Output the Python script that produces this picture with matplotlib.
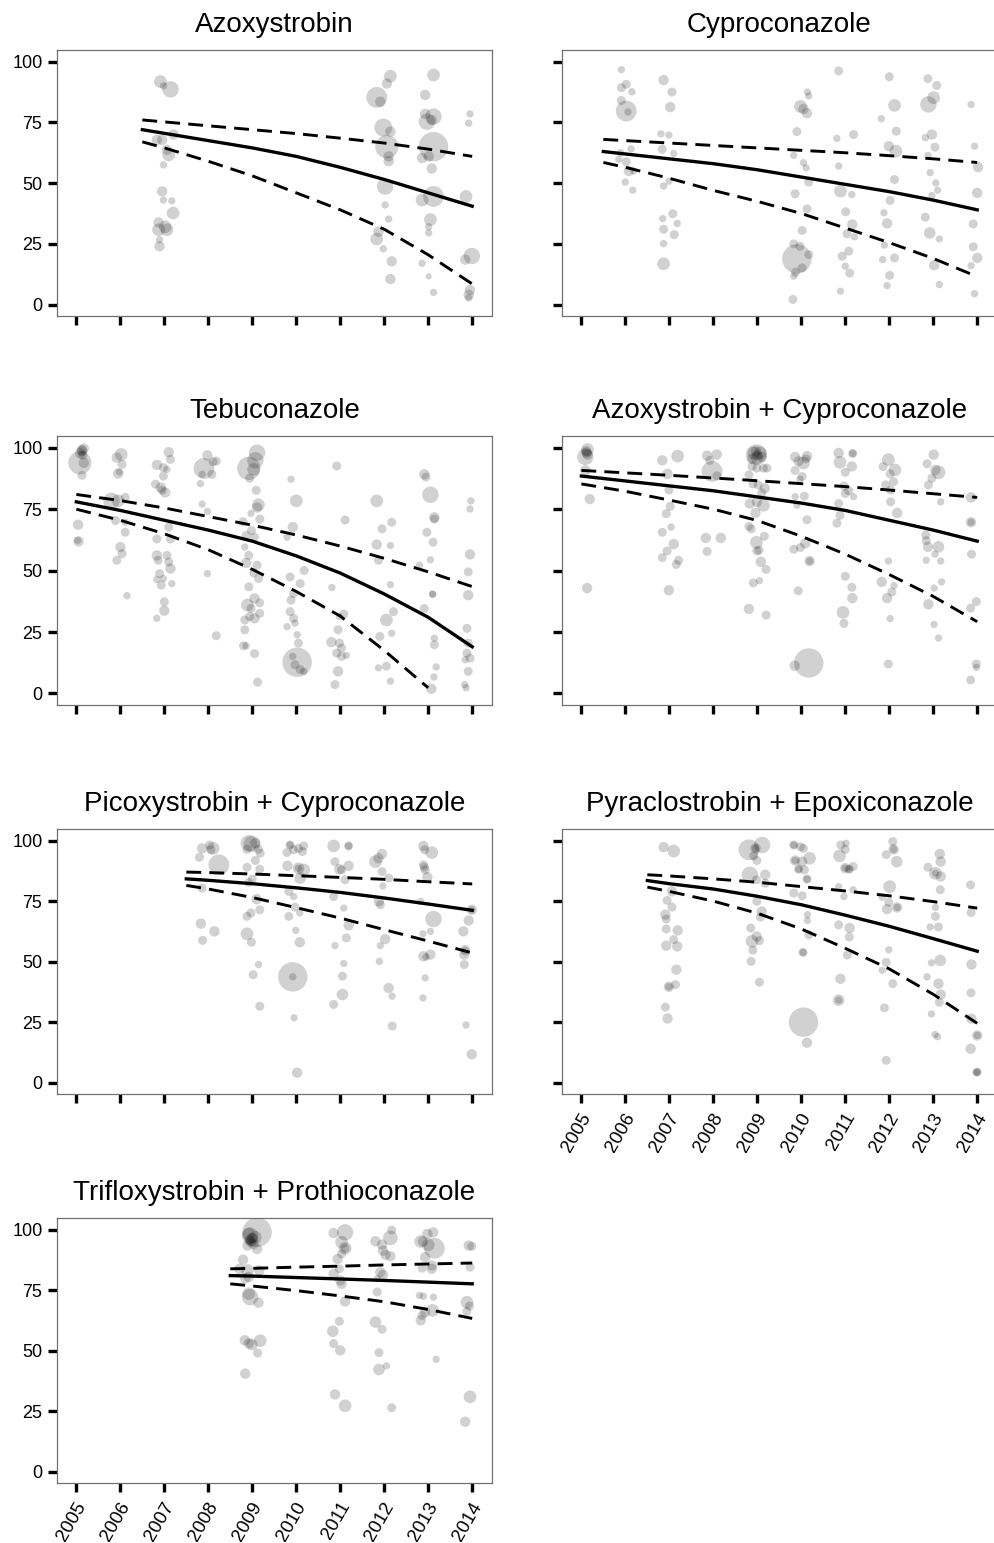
import matplotlib.pyplot as plt
from matplotlib.transforms import ScaledTranslation

plt.rcParams['font.family'] = ['Liberation Sans', 'DejaVu Sans']

YEARS = list(range(2005, 2015))
Y_TICKS = [0, 25, 50, 75, 100]

# observations: (year, percent, weight)
AZO_PTS = [
    (2006.91, 91.8, 3), (2007.14, 88.6, 5), (2006.98, 90, 1), (2006.83, 67.8, 2),
    (2006.95, 67.8, 2), (2007.21, 70, 2), (2007.1, 61.6, 3), (2007.06, 63.7, 2),
    (2006.98, 57.5, 1), (2006.95, 46.6, 2), (2006.98, 43, 1), (2007.17, 42.7, 1),
    (2007.2, 37.7, 3), (2006.87, 33.8, 2), (2007.02, 32, 3), (2007.06, 30.8, 3),
    (2006.87, 30.8, 3), (2006.89, 24, 2), (2006.89, 26.7, 1),
    (2011.83, 85.3, 8), (2011.91, 83.5, 2), (2012.06, 91, 2), (2012.14, 94, 3),
    (2011.98, 72.9, 6), (2012.14, 71.2, 2), (2012.06, 65, 10), (2012.1, 61, 2),
    (2012.1, 59, 2), (2012.02, 48.6, 5), (2012.02, 41, 1), (2012.1, 35.2, 1),
    (2011.87, 30, 2), (2011.83, 27, 3), (2011.98, 23, 1), (2012.17, 17.8, 2),
    (2012.14, 10.5, 2),
    (2013.12, 94.5, 3), (2012.93, 86.3, 2), (2012.93, 78.5, 2), (2013.12, 77.4, 5),
    (2012.97, 75.3, 5), (2013.08, 76, 2), (2013.12, 65, 16), (2013.01, 61, 2),
    (2012.86, 60.3, 2), (2013.08, 56, 2), (2012.86, 43, 3), (2013.12, 44.5, 8),
    (2013.05, 35, 3), (2013.01, 32, 1), (2013.01, 29.5, 1), (2012.86, 17, 1),
    (2013.01, 11.6, 0.7), (2013.12, 5, 1),
    (2013.95, 78.5, 1), (2013.92, 74.7, 1), (2013.86, 44.5, 3), (2013.99, 20, 5),
    (2013.84, 18.5, 2), (2013.95, 6, 2), (2013.92, 4, 2), (2013.92, 2.7, 1),
]

CYP_PTS = [
    (2005.91, 96.7, 1), (2006.02, 90.7, 1.5), (2006.15, 87.6, 1), (2005.91, 89.3, 1.5),
    (2005.91, 84, 1.5), (2006.02, 79.7, 8), (2006.06, 79.3, 1), (2005.89, 62.5, 1),
    (2006.13, 64.1, 1), (2005.85, 59.8, 1), (2006.02, 58.8, 1.5), (2006.08, 55, 2),
    (2006.19, 55, 1), (2006.0, 50.4, 1), (2006.17, 47.1, 1),
    (2006.87, 92.4, 2), (2007.06, 87.5, 1.5), (2007.02, 81.3, 2), (2006.81, 70.3, 1),
    (2006.99, 69.8, 1), (2006.84, 63.9, 1.5), (2007.1, 62.2, 1), (2006.87, 48.8, 1),
    (2006.99, 50.8, 1), (2007.08, 37.4, 1.5), (2006.85, 35.4, 1), (2007.18, 33.4, 1),
    (2006.87, 31, 1.5), (2007.11, 28.8, 1.5), (2006.87, 25.1, 1), (2006.87, 16.8, 3),
    (2009.98, 81.6, 3), (2010.05, 80.5, 2), (2010.13, 78.8, 2), (2010.14, 87.5, 1),
    (2010.17, 85.9, 1), (2009.9, 71.2, 1.5), (2009.83, 61.4, 1), (2010.05, 58.4, 1),
    (2010.11, 56.3, 1), (2010.17, 50.4, 1.5), (2009.86, 45.6, 1.5), (2010.13, 39.4, 1.5),
    (2010.02, 30.5, 1.5), (2009.83, 25, 1.5), (2009.97, 24, 1.5), (2009.9, 18.8, 16),
    (2010.17, 20.6, 1.5), (2009.87, 13.3, 1.5), (2010.02, 15.1, 1.5), (2009.83, 11.7, 1),
    (2009.81, 2.1, 1.5),
    (2010.85, 96.2, 1.5), (2010.81, 68.4, 1), (2011.19, 70, 1.5), (2010.85, 57, 1),
    (2010.89, 46.7, 3), (2011.15, 45.3, 1), (2011.01, 38.2, 1.5), (2011.16, 33, 2),
    (2011.04, 29.1, 1.5), (2011.21, 27.9, 1), (2011.08, 22, 1.5), (2010.93, 19.9, 1.5),
    (2011.0, 15.8, 1), (2011.1, 13, 1.5), (2010.89, 5.5, 1),
    (2012.0, 93.8, 1.5), (2012.12, 82, 3), (2011.82, 76.5, 1), (2012.16, 71.4, 1.5),
    (2011.99, 65.2, 2), (2012.15, 63.2, 3), (2012.12, 51.5, 1.5), (2012.02, 42.9, 1.5),
    (2011.88, 37.8, 1), (2011.95, 33.4, 2), (2011.89, 24.5, 1), (2012.12, 19.2, 1.5),
    (2011.85, 18.5, 1), (2012.01, 12, 1.5), (2011.95, 7.8, 1),
    (2012.88, 93, 1.5), (2013.08, 90.2, 1.5), (2013.01, 85.2, 3), (2012.89, 82.4, 5),
    (2012.97, 70, 2), (2012.82, 68.7, 1), (2013.04, 64.8, 1.5), (2012.88, 61.4, 1),
    (2012.93, 54.3, 1), (2013.06, 50.1, 1), (2013.1, 47.1, 1), (2012.97, 44.9, 1),
    (2012.82, 36, 1.5), (2012.92, 29.5, 2.5), (2013.14, 27, 1), (2013.02, 16.2, 2),
    (2013.14, 8.2, 1),
    (2013.86, 82.4, 1), (2013.94, 65.2, 1), (2014.02, 56.6, 2), (2014.0, 46, 2),
    (2013.91, 33.2, 1.5), (2013.91, 23.8, 1.5), (2014.0, 19.2, 2), (2013.86, 16, 1),
    (2013.94, 4.5, 1),
]

TEB_PTS = [
    (2005.17, 99.7, 2), (2005.13, 98.7, 2), (2005.09, 97.7, 2), (2005.08, 93.9, 10),
    (2005.17, 93.9, 2), (2005.13, 88.8, 1.5), (2005.04, 68.7, 2), (2005.05, 61.9, 2),
    (2005.03, 62.3, 1), (2005.12, 99.0, 2), (2005.15, 97.0, 1.5),
    (2005.92, 96, 2), (2006.02, 97.3, 3), (2006.04, 93.3, 1.5), (2005.95, 89.5, 2),
    (2005.98, 90.2, 1), (2005.8, 78.4, 5), (2005.95, 78.4, 3), (2006.11, 79.8, 1.5),
    (2005.89, 70.4, 1.5), (2006.11, 69.7, 1), (2006.11, 65.6, 1.5), (2006.0, 59.6, 2),
    (2006.04, 56.9, 1.5), (2005.92, 54.2, 1.5), (2006.15, 39.8, 1),
    (2006.83, 93, 2), (2007.1, 98.2, 2), (2007.14, 95.3, 1.5), (2006.98, 91.9, 1.5),
    (2007.06, 91.2, 1), (2006.98, 88.5, 1.5), (2006.8, 85.2, 1.5), (2006.92, 83.8, 2),
    (2007.02, 81.8, 2), (2006.95, 82.7, 1.5), (2007.1, 67.7, 1.5), (2006.83, 62.9, 1.5),
    (2007.14, 62.9, 1.5), (2006.83, 56.2, 2), (2006.86, 54.2, 1.5), (2007.06, 56.2, 1.5),
    (2007.1, 53.5, 1.5), (2007.14, 50.8, 2), (2006.89, 48.8, 1.5), (2006.83, 46.4, 1),
    (2006.93, 44.1, 1.5), (2006.98, 46.8, 1), (2007.17, 44.7, 1), (2007.0, 37.3, 1.5),
    (2007.0, 33.7, 2), (2006.83, 30.6, 1),
    (2007.98, 96.9, 2), (2007.9, 91.6, 8), (2008.11, 94.3, 1.5), (2008.18, 94.6, 1.5),
    (2007.86, 89.2, 1), (2008.08, 89.2, 1.5), (2007.82, 85.4, 1), (2007.86, 77.1, 1),
    (2007.98, 74.1, 1), (2007.98, 48.8, 1), (2008.18, 23.5, 1.5),
    (2009.11, 98, 5), (2009.07, 94.9, 5), (2008.92, 91.6, 10), (2009.03, 91.2, 3),
    (2008.94, 87.6, 1.5), (2009.09, 82.7, 1.5), (2009.14, 76.8, 3), (2009.11, 75.7, 2),
    (2009.17, 71, 1.5), (2008.79, 69.9, 1.5), (2008.97, 73.3, 1), (2008.98, 66.3, 1.5),
    (2008.86, 64.3, 1.5), (2009.05, 63.6, 1.5), (2008.83, 59.6, 1), (2008.92, 56.2, 1.5),
    (2008.86, 53.1, 2), (2009.11, 52.2, 1.5), (2009.03, 49.1, 1.5), (2009.14, 46.8, 1.5),
    (2008.92, 43.4, 1.5), (2008.89, 36, 3), (2009.05, 38.7, 2), (2009.17, 36.9, 1.5),
    (2008.97, 34.6, 1.5), (2009.05, 30.6, 2), (2008.83, 29.9, 1.5), (2008.94, 31.3, 1.5),
    (2009.17, 32.6, 1.5), (2008.83, 25.9, 1.5), (2008.8, 19.4, 1.5), (2008.86, 19.4, 1),
    (2009.05, 16.2, 1.5), (2009.12, 4.6, 1.5),
    (2009.88, 87.2, 1), (2010.0, 78.4, 3), (2009.92, 67.7, 2), (2009.79, 63.6, 1),
    (2010.18, 50.1, 1.5), (2009.86, 47.4, 1.5), (2010.09, 44.7, 1.5), (2009.94, 40.7, 1.5),
    (2009.88, 38, 1.5), (2009.86, 33.3, 1.5), (2009.94, 30.6, 1.5), (2009.97, 28.6, 1),
    (2009.79, 27.2, 1), (2010.02, 23.9, 1), (2010.05, 20.5, 1.5), (2010.02, 12.7, 16),
    (2009.97, 11.7, 1.5), (2010.09, 9.7, 1.5), (2009.92, 15.1, 1), (2010.17, 9, 1),
    (2010.92, 92.6, 1.5), (2011.11, 70.6, 1.5), (2010.81, 43.1, 1), (2011.08, 32.3, 1.5),
    (2010.98, 31.3, 1), (2010.95, 25.9, 1.5), (2010.8, 20.9, 2), (2010.98, 20.5, 1.5),
    (2011.03, 18.5, 1.5), (2010.92, 16.4, 1.5), (2011.03, 15.1, 1.5), (2011.14, 15.5, 1),
    (2010.95, 9, 2), (2010.88, 3.6, 1.5),
    (2011.83, 78.4, 3), (2011.95, 67, 1.5), (2012.17, 69.7, 1.5), (2011.83, 60.6, 2),
    (2012.14, 60.2, 1), (2011.87, 54.2, 1.5), (2012.14, 44.3, 1), (2012.21, 33.3, 1.5),
    (2012.05, 29.9, 3), (2011.9, 23.2, 1.5), (2012.17, 24.5, 1), (2011.87, 10.4, 1),
    (2012.05, 11.1, 1.5), (2012.14, 5, 1),
    (2012.91, 89.2, 2), (2012.95, 88.1, 1.5), (2013.05, 80.9, 5), (2012.97, 65.6, 1.5),
    (2013.14, 71.7, 2), (2013.14, 71, 1.5), (2013.11, 61.6, 1.5), (2012.8, 52.2, 1),
    (2013.05, 54.4, 1), (2013.1, 40.4, 1), (2013.1, 40.4, 1), (2012.91, 34.6, 1.5),
    (2013.14, 22.5, 1), (2013.14, 19.8, 1.5), (2013.18, 10.8, 1), (2013.13, 6.7, 1),
    (2013.07, 1.9, 2),
    (2013.97, 78.4, 1), (2013.95, 75.1, 1), (2013.95, 56.6, 2), (2013.91, 49.5, 1.5),
    (2013.91, 40, 2), (2013.88, 26.5, 1.5), (2013.91, 20.5, 1.5), (2013.88, 16.4, 1.5),
    (2013.95, 14.4, 1.5), (2013.84, 13.7, 1), (2013.91, 9, 1.5), (2013.83, 3.6, 1),
    (2013.86, 2.3, 1),
]

AC_PTS = [
    (2005.14, 99.3, 3), (2005.11, 98.6, 2), (2005.09, 96.3, 5), (2005.14, 97.2, 2),
    (2005.12, 98.0, 2), (2005.09, 90.8, 2), (2005.19, 79.1, 2), (2005.13, 42.9, 2),
    (2006.84, 94.9, 2), (2007.19, 96.6, 3), (2006.96, 89.4, 2), (2006.99, 82.8, 1.5),
    (2007.02, 76.2, 1.5), (2006.93, 73.2, 1.5), (2007.04, 67.7, 1), (2006.84, 65.6, 1.5),
    (2007.1, 60.8, 2), (2006.95, 58, 1.5), (2006.84, 55.3, 1.5), (2007.21, 54.2, 1.5),
    (2007.16, 52.5, 1.5), (2006.99, 42, 2),
    (2007.86, 96.8, 2), (2008.08, 97.3, 2), (2007.92, 94.9, 1.5), (2007.97, 90.4, 8),
    (2008.08, 88.6, 1.5), (2007.83, 63.3, 2), (2008.17, 63.3, 2), (2007.86, 57.8, 1.5),
    (2008.98, 97.2, 8), (2008.92, 97.9, 3), (2009.07, 97.9, 3), (2008.99, 95.9, 3),
    (2008.88, 95.5, 2), (2009.1, 96.3, 2), (2008.97, 98.6, 2), (2009.0, 97.0, 2),
    (2008.88, 92.4, 1.5), (2008.99, 91.7, 1.5), (2009.14, 91.7, 1.5), (2009.22, 91.7, 1.5),
    (2008.81, 89, 1.5), (2008.9, 85.3, 1.5), (2009.02, 84.9, 1.5), (2009.17, 83.5, 2),
    (2009.1, 81.7, 1.5), (2008.83, 77.3, 2), (2008.99, 78, 2), (2009.14, 76.6, 3),
    (2008.96, 73.5, 2), (2008.81, 68, 1.5), (2008.86, 67, 1.5), (2009.16, 64, 1.5),
    (2008.98, 61.5, 3), (2009.04, 58.3, 1.5), (2008.99, 58, 1.5), (2009.08, 53.6, 2),
    (2009.2, 50.5, 1.5), (2009.05, 45.9, 1), (2008.91, 45, 1.5), (2008.81, 34.4, 2),
    (2009.2, 31.9, 1.5),
    (2009.86, 96.3, 2), (2010.13, 96.6, 2), (2009.94, 94.5, 2), (2010.05, 93.8, 3),
    (2010.11, 95.5, 1.5), (2009.86, 90.8, 1.5), (2010.02, 88.3, 1.5), (2009.97, 87.2, 1),
    (2009.86, 80.1, 1), (2010.07, 80.3, 1.5), (2009.9, 76.6, 1), (2010.13, 70.7, 1.5),
    (2010.09, 61.1, 2), (2009.98, 59.4, 1.5), (2009.83, 58.7, 1.5), (2010.19, 53.9, 2),
    (2010.19, 53.9, 1), (2009.93, 41.8, 1.5), (2010.17, 12.4, 16), (2009.85, 11.3, 2),
    (2010.85, 97.9, 2), (2011.17, 97.7, 1.5), (2011.17, 97.7, 1), (2010.88, 94.1, 3),
    (2011.15, 92.4, 2), (2011.0, 90, 1.5), (2010.97, 84.5, 1.5), (2011.08, 82.5, 1.5),
    (2011.0, 81.4, 1.5), (2011.19, 80.1, 1), (2010.85, 77.3, 1.5), (2010.88, 72.5, 1.5),
    (2010.81, 69.3, 1.5), (2011.0, 47.7, 1.5), (2011.15, 43.2, 1.5), (2011.16, 38.8, 2),
    (2010.95, 33, 3), (2010.97, 28.5, 1.5),
    (2011.98, 95.2, 3), (2011.86, 92.4, 1.5), (2012.13, 91, 3), (2012.02, 89.4, 1.5),
    (2012.1, 86.2, 1.5), (2011.92, 84.9, 1.5), (2012.03, 82.8, 1.5), (2012.18, 73.5, 2),
    (2012.03, 78, 1.5), (2011.98, 53.9, 1), (2011.83, 45.4, 2), (2012.11, 43.9, 1),
    (2012.06, 41.3, 1.5), (2011.95, 38.8, 2), (2012.02, 30.5, 1), (2011.98, 12, 1.5),
    (2013.01, 97.2, 2), (2012.86, 93.5, 1.5), (2013.12, 90, 3.5), (2013.05, 91, 2),
    (2012.97, 87.6, 1.5), (2012.89, 84.9, 1.5), (2013.17, 78, 1), (2012.83, 64.5, 1.5),
    (2012.84, 62.2, 1.5), (2012.88, 59.7, 2), (2013.12, 59.7, 2.5), (2013.04, 56.7, 1),
    (2013.17, 53.9, 1), (2012.84, 54.2, 1), (2013.19, 45.4, 1), (2013.02, 42.9, 1),
    (2012.89, 36.3, 2), (2013.02, 28.1, 1), (2013.12, 22.6, 1),
    (2013.86, 79.8, 2), (2013.86, 69.7, 2), (2013.86, 69.7, 1), (2013.87, 56.7, 1.5),
    (2013.98, 37.4, 1.5), (2013.85, 34.7, 1.5), (2013.98, 12, 1.5), (2013.98, 10.6, 1),
    (2013.85, 5.5, 1.5),
]

PC_PTS = [
    (2007.86, 96.8, 2), (2008.03, 98.2, 1.5), (2008.11, 96.8, 3), (2008.06, 96.2, 1.5),
    (2007.8, 93.1, 1.5), (2008.24, 90, 8), (2007.86, 80.4, 1.5), (2007.83, 65.7, 2),
    (2008.14, 62.5, 2), (2007.87, 58.8, 1.5),
    (2008.92, 98.9, 5), (2008.99, 98.6, 5), (2009.07, 98.9, 2), (2008.88, 96.4, 1.5),
    (2009.14, 96.4, 1.5), (2009.18, 94.8, 1.5), (2009.07, 91.8, 1.5), (2008.88, 89, 1.5),
    (2009.17, 88.2, 1.5), (2009.0, 84.1, 1.5), (2008.92, 82.7, 1.5), (2009.1, 75.8, 2),
    (2009.17, 71.4, 1.5), (2008.88, 68.7, 1.5), (2008.97, 70.1, 1.5), (2008.88, 61.5, 3),
    (2008.98, 58, 1.5), (2009.14, 48.8, 1), (2009.02, 44.6, 1.5), (2009.17, 31.6, 1.5),
    (2009.86, 98.2, 1.5), (2009.86, 98.2, 1), (2009.94, 96.2, 1.5), (2009.79, 95.1, 1.5),
    (2010.05, 96.8, 1.5), (2010.17, 97.8, 1.5), (2010.14, 95.5, 1.5), (2009.8, 89.6, 2),
    (2010.05, 88.6, 2.5), (2010.05, 88.6, 1), (2010.17, 87.9, 3), (2010.09, 84.5, 2.5),
    (2009.83, 79, 1.5), (2009.94, 76.9, 1), (2009.97, 72.5, 1.5), (2010.08, 70.1, 1),
    (2009.83, 68.7, 1.5), (2009.99, 62.9, 1), (2010.08, 58, 2), (2009.92, 43.7, 16),
    (2009.92, 43.7, 1), (2009.95, 26.8, 1), (2010.02, 4.1, 2),
    (2010.85, 97.8, 3), (2011.19, 97.8, 1.5), (2011.19, 97.8, 1), (2010.88, 91.3, 1.5),
    (2011.19, 89.6, 2), (2010.98, 88.2, 2), (2011.03, 87.9, 1.5), (2011.11, 83.8, 1.5),
    (2010.85, 76.9, 1.5), (2011.08, 72.1, 1), (2011.19, 65, 2), (2011.14, 59.8, 1.5),
    (2010.88, 56.6, 1), (2011.08, 49.2, 1), (2011.05, 44, 1.5), (2011.05, 36.4, 2.5),
    (2010.85, 32.3, 1.5),
    (2011.8, 91.3, 3), (2011.95, 94.5, 2), (2011.87, 92.7, 2), (2011.95, 87.2, 1.5),
    (2012.1, 84.5, 1.5), (2011.97, 81.3, 1), (2011.88, 74.9, 2), (2011.91, 73.5, 1.5),
    (2012.02, 59.3, 2), (2011.91, 56.6, 1), (2011.89, 50.1, 1), (2012.1, 39.1, 2),
    (2012.18, 35.7, 1), (2012.18, 23.4, 1.5),
    (2012.89, 97.8, 2), (2013.08, 95.1, 3), (2012.92, 96.2, 1.5), (2012.89, 90, 1.5),
    (2012.91, 89, 1.5), (2012.93, 87.9, 1.5), (2012.98, 84.9, 2), (2012.83, 74.9, 1),
    (2013.12, 67.6, 5), (2013.05, 62.5, 1), (2012.88, 61.5, 1), (2012.89, 52.2, 2),
    (2013.05, 52.9, 2), (2012.95, 51.9, 1), (2012.93, 43.3, 1), (2012.88, 35, 1),
    (2013.99, 71.4, 2), (2013.99, 71.4, 1), (2013.92, 67, 2), (2013.8, 62.5, 2),
    (2013.84, 54.7, 2), (2013.84, 54.7, 1), (2013.82, 52.9, 2), (2013.82, 48.8, 1.5),
    (2013.86, 23.8, 1), (2013.99, 11.7, 2),
]

PE_PTS = [
    (2006.87, 97.3, 2), (2007.1, 95.7, 3), (2007.06, 79, 2), (2006.95, 75.3, 1.5),
    (2007.06, 72.5, 1.5), (2006.91, 69.4, 2), (2006.93, 67.6, 1.5), (2006.93, 63.5, 1.5),
    (2007.19, 62.9, 2), (2007.1, 59.1, 1.5), (2006.93, 56.6, 2), (2007.18, 56.3, 2),
    (2007.16, 46.7, 2), (2006.99, 39.6, 2), (2006.99, 39.6, 1), (2007.14, 40.5, 1.5),
    (2006.91, 31.2, 1.5), (2006.96, 26.5, 2),
    (2008.81, 96.2, 8), (2009.11, 98.2, 5), (2008.96, 96.8, 2), (2008.96, 96.8, 1),
    (2008.92, 93.7, 1.5), (2008.99, 91.8, 1.5), (2008.83, 85.9, 5), (2008.98, 83.8, 1.5),
    (2009.18, 85.9, 2), (2009.18, 82.4, 1.5), (2008.99, 74.9, 1.5), (2009.1, 70.7, 2),
    (2009.07, 68.4, 1.5), (2008.85, 63.9, 1.5), (2008.99, 60.4, 2), (2008.88, 58.4, 3),
    (2009.05, 58.7, 1.5), (2008.9, 54.7, 1.5), (2008.86, 50.1, 1.5), (2009.05, 41.5, 1.5),
    (2009.83, 98.2, 1.5), (2009.83, 98.2, 1), (2009.98, 97.5, 1.5), (2010.05, 96.8, 1.5),
    (2010.19, 92.7, 3), (2009.86, 91.8, 2), (2009.86, 91.8, 1), (2010.02, 91.3, 2),
    (2009.94, 88.2, 1.5), (2009.94, 88.2, 1), (2010.07, 87.9, 1.5), (2010.13, 84.1, 1.5),
    (2010.13, 84.1, 1), (2009.83, 78.3, 1.5), (2010.02, 77.2, 1.5), (2010.14, 69.4, 1),
    (2010.14, 67, 1), (2010.17, 61.1, 1.5), (2010.04, 53.8, 1.5), (2010.04, 53.8, 1),
    (2010.05, 25, 16), (2010.13, 16.5, 2),
    (2010.9, 98.2, 1.5), (2011.02, 98.9, 1), (2011.0, 96.4, 1.5), (2010.87, 93.7, 3),
    (2011.0, 88.6, 2), (2011.0, 88.6, 1), (2011.09, 88.2, 1.5), (2011.09, 88.2, 1),
    (2011.18, 89.3, 1.5), (2010.85, 81, 1), (2010.97, 76.9, 1), (2011.18, 79.7, 1),
    (2010.85, 65.2, 1.5), (2011.1, 63.9, 2), (2011.09, 60.2, 1.5), (2011.05, 52.7, 1.5),
    (2010.89, 42.9, 2), (2010.85, 34.1, 2.5), (2010.85, 34.1, 1),
    (2012.08, 99.6, 1.5), (2012.1, 96.4, 2), (2012.1, 96.4, 1), (2011.93, 94.2, 1.5),
    (2012.17, 91.3, 2.5), (2012.01, 81, 3), (2011.84, 76.6, 1), (2011.99, 74.5, 1.5),
    (2012.18, 72.4, 2), (2012.18, 72.4, 1), (2011.95, 71.7, 2), (2011.99, 54.9, 1),
    (2011.93, 49.7, 1.5), (2011.84, 46.4, 1), (2012.08, 40.9, 1.5), (2011.89, 30.9, 1.5),
    (2011.93, 9.2, 1.5),
    (2013.15, 94.5, 2), (2013.17, 91.3, 2), (2012.88, 89, 1.5), (2013.05, 86.5, 3),
    (2013.05, 86.5, 1), (2013.17, 85.2, 2), (2013.16, 79.7, 1.5), (2013.05, 72.4, 1),
    (2013.05, 68.7, 1.5), (2013.12, 64.3, 1.5), (2012.93, 64.3, 1), (2013.16, 50.5, 2.5),
    (2012.96, 49.5, 1), (2012.86, 43.7, 1), (2013.12, 40.9, 2), (2013.17, 36.4, 2),
    (2013.14, 33.2, 1.5), (2012.96, 28.4, 1), (2013.04, 19.9, 1), (2013.1, 19, 1),
    (2013.85, 81.7, 1.5), (2013.86, 70.3, 1.5), (2013.87, 48.8, 2), (2013.86, 37.1, 1.5),
    (2013.87, 26.4, 2), (2014.0, 19.5, 2), (2014.0, 19.5, 1), (2013.85, 14, 2),
    (2014.0, 4.4, 1.5), (2014.0, 4.4, 1), (2013.98, 4.1, 1),
]

TP_PTS = [
    (2009.11, 98.9, 16), (2008.95, 97.5, 5), (2008.92, 98.2, 3), (2008.99, 95.9, 3),
    (2009.07, 96.8, 3), (2008.94, 95.5, 2), (2009.03, 94, 2), (2008.89, 93.4, 2),
    (2009.11, 92, 2), (2009.0, 96.5, 2), (2008.97, 94.8, 2), (2008.79, 87.6, 2),
    (2008.71, 83.8, 2), (2008.89, 83.1, 3), (2008.84, 79.9, 2), (2008.92, 80.4, 2),
    (2009.16, 83.1, 2), (2008.92, 73.5, 3), (2008.95, 72.1, 5), (2009.14, 69.8, 2),
    (2008.83, 54.3, 2), (2008.99, 52.5, 2.5), (2008.92, 53, 2), (2009.18, 54.1, 3),
    (2009.12, 49, 1.5), (2008.84, 40.5, 2),
    (2010.85, 98.6, 2), (2011.11, 98.9, 5), (2011.03, 94.8, 3), (2011.11, 92.3, 3),
    (2011.11, 92.3, 1.5), (2011.03, 90, 1.5), (2010.94, 87.9, 2), (2010.98, 83.8, 1.5),
    (2010.85, 81.7, 2), (2011.0, 79, 2), (2011.03, 77.6, 2), (2011.11, 70.3, 2),
    (2010.98, 62.1, 1.5), (2010.83, 58, 2.5), (2010.85, 52.9, 1.5), (2011.0, 50.1, 2),
    (2010.88, 31.9, 2), (2011.11, 27.2, 3),
    (2011.8, 95.2, 2), (2011.95, 93.8, 2), (2012.14, 96.6, 4), (2012.17, 99.8, 1.5),
    (2011.97, 91.3, 2), (2012.03, 89.6, 2), (2012.14, 89, 2), (2011.91, 82.4, 2),
    (2011.97, 81.3, 2), (2011.84, 79.7, 1), (2011.84, 74.2, 1.5), (2011.8, 61.8, 2.5),
    (2011.95, 58.8, 1.5), (2011.88, 49.2, 1.5), (2011.88, 42.2, 2.5), (2012.05, 43.7, 1),
    (2012.17, 26.4, 1.5),
    (2012.83, 95.1, 3), (2012.98, 98.2, 2), (2013.11, 98.9, 2), (2013.0, 93.7, 3),
    (2013.14, 92.3, 8), (2012.88, 95.1, 2), (2012.93, 88.6, 2), (2013.08, 85.2, 2),
    (2012.86, 84.1, 1.5), (2013.08, 83.8, 2), (2012.8, 72.8, 1), (2012.89, 72.5, 1),
    (2013.12, 72.1, 1), (2013.1, 66.6, 3), (2012.93, 65.9, 2), (2012.86, 64.5, 1.5),
    (2012.83, 62.5, 2), (2013.18, 46.4, 1),
    (2013.92, 93.4, 2), (2013.99, 93.1, 1.5), (2013.95, 84.5, 1.5), (2013.88, 70, 3),
    (2013.94, 68.4, 1.5), (2013.88, 66.2, 1.5), (2013.95, 30.9, 3), (2013.84, 20.6, 2),
]

# fitted trend with confidence band
AZO_FIT_X = [2006.5, 2007, 2008, 2009, 2010, 2011, 2012, 2013, 2014]
AZO_FIT = [72, 70.5, 67.5, 64.5, 61, 56.5, 51.5, 46, 40.5]
AZO_HI = [76, 75.2, 73.6, 72, 70.4, 68.5, 66.5, 64, 61]
AZO_LO = [67, 64.5, 59, 53, 46, 39, 31, 20.5, 8.5]

CYP_FIT_X = [2005.5, 2006, 2007, 2008, 2009, 2010, 2011, 2012, 2013, 2014]
CYP_FIT = [63, 62, 60, 58, 55.5, 52.5, 49.5, 46.5, 43, 39]
CYP_HI = [68, 67.5, 66.5, 65.5, 64.5, 63.5, 62.5, 61.3, 60, 58.5]
CYP_LO = [58.5, 56.5, 52, 47, 42.5, 37.5, 31.5, 25.5, 19, 11.5]

TEB_FIT_X = [2005, 2006, 2007, 2008, 2009, 2010, 2011, 2012, 2013, 2014]
TEB_FIT = [78, 74.5, 70.5, 66.5, 62, 56, 49, 40.5, 31, 19]
TEB_HI = [81, 78.5, 75.5, 72, 68.5, 64.5, 60, 55, 49.5, 43.5]
TEB_LO_X = [2005, 2006, 2007, 2008, 2009, 2010, 2011, 2012, 2013]
TEB_LO = [75, 70.5, 65, 58.5, 50.5, 41.5, 31.5, 17.5, 2.3]

AC_FIT_X = [2005, 2006, 2007, 2008, 2009, 2010, 2011, 2012, 2013, 2014]
AC_FIT = [88.5, 86.5, 84.5, 82.5, 80, 77.5, 74.5, 70.5, 66.5, 62]
AC_HI = [90.8, 89.8, 88.8, 87.7, 86.6, 85.4, 84.2, 82.8, 81.3, 79.8]
AC_LO = [85.3, 82.3, 78.7, 75, 70.4, 64, 56.7, 48.4, 39.5, 29.2]

PC_FIT_X = [2007.5, 2008, 2009, 2010, 2011, 2012, 2013, 2014]
PC_FIT = [84.2, 83.6, 82.2, 80.5, 78.6, 76.3, 73.8, 71.2]
PC_HI = [87, 86.8, 86.2, 85.5, 84.8, 84, 83, 82.1]
PC_LO = [81.5, 80, 76.5, 72.3, 68, 63.2, 58.5, 53.6]

PE_FIT_X = [2006.5, 2007, 2008, 2009, 2010, 2011, 2012, 2013, 2014]
PE_FIT = [83.5, 82.2, 80, 77, 73.5, 69.2, 64.6, 59.5, 54.3]
PE_HI = [85.9, 85.4, 84.2, 82.8, 81, 79.2, 77.2, 74.8, 72.1]
PE_LO = [80.8, 79, 75, 70, 63.5, 55.5, 47, 36.5, 24.5]

TP_FIT_X = [2008.5, 2009, 2010, 2011, 2012, 2013, 2014]
TP_FIT = [81, 80.8, 80.2, 79.6, 79, 78.3, 77.6]
TP_HI = [83.8, 84, 84.5, 84.9, 85.4, 85.8, 86.2]
TP_LO = [77.6, 76.7, 74.8, 72.6, 70.2, 67, 63.3]

PANELS = [
    ('Azoxystrobin', AZO_PTS, AZO_FIT_X, AZO_FIT, AZO_HI, AZO_FIT_X, AZO_LO),
    ('Cyproconazole', CYP_PTS, CYP_FIT_X, CYP_FIT, CYP_HI, CYP_FIT_X, CYP_LO),
    ('Tebuconazole', TEB_PTS, TEB_FIT_X, TEB_FIT, TEB_HI, TEB_LO_X, TEB_LO),
    ('Azoxystrobin + Cyproconazole', AC_PTS, AC_FIT_X, AC_FIT, AC_HI, AC_FIT_X, AC_LO),
    ('Picoxystrobin + Cyproconazole', PC_PTS, PC_FIT_X, PC_FIT, PC_HI, PC_FIT_X, PC_LO),
    ('Pyraclostrobin + Epoxiconazole', PE_PTS, PE_FIT_X, PE_FIT, PE_HI, PE_FIT_X, PE_LO),
    ('Trifloxystrobin + Prothioconazole', TP_PTS, TP_FIT_X, TP_FIT, TP_HI, TP_FIT_X, TP_LO),
]

W, H = 994, 1543
COL_LEFT = [57, 562]
COL_W = 435
ROW_TOP = [50, 436, 829, 1218]
ROW_H = [266, 269, 265, 265]
BOTTOM_ROW = {0: 3, 1: 2}  # last row with x labels per column
DASH = (0, (5.1, 2.8))

fig = plt.figure(figsize=(W / 100, H / 100), dpi=100)

for i, (title, pts, fx, fit, hi, lox, lo) in enumerate(PANELS):
    row, col = divmod(i, 2)
    ax = fig.add_axes([COL_LEFT[col] / W, 1 - (ROW_TOP[row] + ROW_H[row]) / H,
                       COL_W / W, ROW_H[row] / H])
    xs, ys, ns = zip(*pts)
    ax.scatter(xs, ys, s=[28 * n for n in ns], color='black', alpha=0.18,
               linewidths=0, zorder=2)
    ax.plot(fx, fit, color='black', lw=2.4, zorder=3)
    ax.plot(fx, hi, color='black', lw=2.1, ls=DASH, zorder=3)
    ax.plot(lox, lo, color='black', lw=2.1, ls=DASH, zorder=3)

    ax.set_xlim(2004.56, 2014.45)
    ax.set_ylim(-4.7, 104.8)
    ax.set_xticks(YEARS)
    ax.set_yticks(Y_TICKS)
    ax.set_title(title, fontsize=20, pad=13)
    ax.tick_params(direction='out', length=6.5, width=2.4, color='black',
                   labelsize=13, pad=4)
    for sp in ax.spines.values():
        sp.set_color('#707070')
        sp.set_linewidth(0.9)

    if col == 1:
        ax.set_yticklabels([])
    if row == BOTTOM_ROW[col]:
        ax.set_xticklabels([str(y) for y in YEARS], rotation=60, fontsize=13.5,
                           ha='right', va='center', rotation_mode='anchor')
        shift = ScaledTranslation(4.5 / 72, -4 / 72, fig.dpi_scale_trans)
        for lab in ax.get_xticklabels():
            lab.set_transform(lab.get_transform() + shift)
    else:
        ax.set_xticklabels([])

fig.savefig('out.png', dpi=100, facecolor='white')
